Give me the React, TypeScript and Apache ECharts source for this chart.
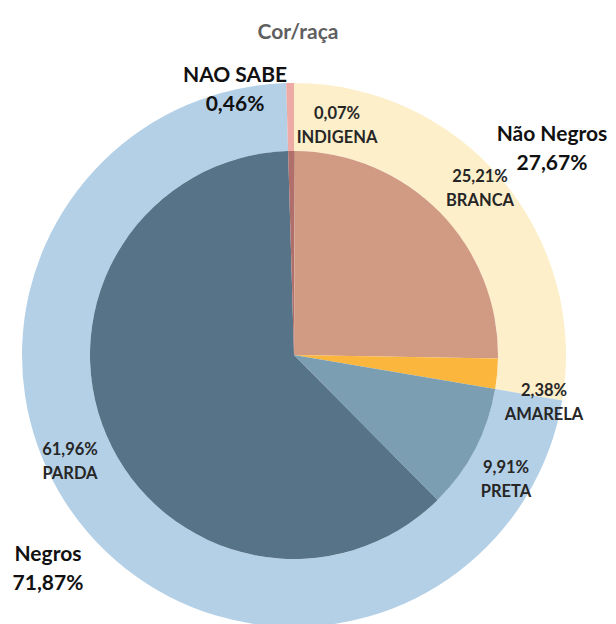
import React, { useEffect, useRef } from "react";
import * as echarts from "echarts";

// ---- data ----
const title = "Cor/raça";
const innerNames = ["INDIGENA", "BRANCA", "AMARELA", "PRETA", "PARDA", "NAO SABE"];
const innerValues = [0.07, 25.21, 2.38, 9.91, 61.96, 0.46];
const innerColors = ["#b9806a", "#d19a83", "#fbb73d", "#7b9eb2", "#577388", "#b06f6a"];
const innerShowLabel = [true, true, true, true, true, false];

const outerNames = ["Não Negros", "Negros", "NAO SABE"];
const outerValues = [27.67, 71.87, 0.46];
const outerColors = ["#fdefca", "#b4d0e7", "#eeaaa4"];

// ---- label layout (pixel positions, kept apart from data) ----
const innerLabelPos: [number, number][] = [
  [337, 125],
  [480, 188],
  [544, 402],
  [506, 479],
  [70, 461],
  [0, 0],
];
const outerLabelPos: [number, number][] = [
  [552, 147],
  [48, 567],
  [235, 88],
];

const fmt = (v: number) => v.toFixed(2).replace(".", ",") + "%";
const FONT = "Lato, 'Open Sans', sans-serif";

export default function App() {
  const ref = useRef<HTMLDivElement>(null);
  useEffect(() => {
    if (!ref.current) return;
    const chart = echarts.init(ref.current, undefined, { renderer: "svg" });
    chart.setOption({
      animation: false,
      backgroundColor: "#ffffff",
      title: {
        text: title,
        left: 293,
        top: 15,
        textAlign: "center",
        textStyle: { fontFamily: FONT, fontSize: 21, fontWeight: "bold", color: "#5f5f5f" },
      },
      series: [
        {
          type: "pie",
          center: [294, 355],
          radius: [204, 272],
          startAngle: 90,
          clockwise: true,
          silent: true,
          itemStyle: { borderWidth: 0 },
          labelLine: { show: false },
          data: outerNames.map((n, i) => ({
            name: n,
            value: outerValues[i],
            itemStyle: { color: outerColors[i] },
          })),
          label: {
            show: true,
            position: "inside",
            overflow: "none",
            formatter: (p: any) => `${p.name}\n${fmt(p.value)}`,
            fontFamily: FONT,
            fontSize: 21,
            fontWeight: "bold",
            color: "#111111",
            lineHeight: 29,
            align: "center",
          },
          labelLayout: (p: any) => ({
            x: outerLabelPos[p.dataIndex][0],
            y: outerLabelPos[p.dataIndex][1],
            align: "center",
            verticalAlign: "middle",
          }),
        },
        {
          type: "pie",
          center: [294, 355],
          radius: [0, 204],
          startAngle: 90,
          clockwise: true,
          silent: true,
          itemStyle: { borderWidth: 0 },
          labelLine: { show: false },
          data: innerNames.map((n, i) => ({
            name: n,
            value: innerValues[i],
            itemStyle: { color: innerColors[i] },
            label: { show: innerShowLabel[i] },
          })),
          label: {
            show: true,
            position: "inside",
            overflow: "none",
            formatter: (p: any) => `${fmt(p.value)}\n${p.name}`,
            fontFamily: FONT,
            fontSize: 16.5,
            fontWeight: "bold",
            color: "#262626",
            lineHeight: 24,
            align: "center",
          },
          labelLayout: (p: any) => ({
            x: innerLabelPos[p.dataIndex][0],
            y: innerLabelPos[p.dataIndex][1],
            align: "center",
            verticalAlign: "middle",
          }),
        },
      ],
    });
    return () => chart.dispose();
  }, []);
  return (
    <div
      ref={ref}
      style={{ position: "absolute", left: 0, top: 0, width: 616, height: 624 }}
    />
  );
}
